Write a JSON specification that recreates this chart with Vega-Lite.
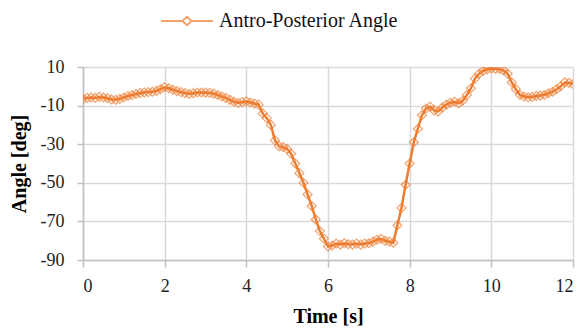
{
  "$schema": "https://vega.github.io/schema/vega-lite/v6.json",
  "width": 490,
  "height": 193,
  "autosize": "none",
  "padding": {"left": 83, "top": 67, "right": 14, "bottom": 69},
  "background": "white",
  "config": {
    "view": {"stroke": null},
    "font": "Liberation Serif",
    "axis": {"labelFont": "Liberation Serif", "titleFont": "Liberation Serif"},
    "legend": {"labelFont": "Liberation Serif"}
  },
  "data": {
    "values": [
      {"t": 0.0, "v": -6.5}, {"t": 0.1, "v": -6}, {"t": 0.2, "v": -5.8}, {"t": 0.3, "v": -6}, {"t": 0.4, "v": -5.5},
      {"t": 0.5, "v": -5.8}, {"t": 0.6, "v": -6.2}, {"t": 0.7, "v": -6.8}, {"t": 0.8, "v": -7}, {"t": 0.9, "v": -6.5},
      {"t": 1.0, "v": -5.8}, {"t": 1.1, "v": -5}, {"t": 1.2, "v": -4.5}, {"t": 1.3, "v": -4}, {"t": 1.4, "v": -3.5},
      {"t": 1.5, "v": -3.2}, {"t": 1.6, "v": -3}, {"t": 1.7, "v": -2.8}, {"t": 1.8, "v": -2.4}, {"t": 1.9, "v": -1.5},
      {"t": 2.0, "v": -0.5}, {"t": 2.1, "v": -1}, {"t": 2.2, "v": -1.8}, {"t": 2.3, "v": -2.5}, {"t": 2.4, "v": -3},
      {"t": 2.5, "v": -3.5}, {"t": 2.6, "v": -4}, {"t": 2.7, "v": -3.6}, {"t": 2.8, "v": -3.2}, {"t": 2.9, "v": -3.2},
      {"t": 3.0, "v": -3.3}, {"t": 3.1, "v": -3.4}, {"t": 3.2, "v": -3.8}, {"t": 3.3, "v": -4.5}, {"t": 3.4, "v": -5.3},
      {"t": 3.5, "v": -6}, {"t": 3.6, "v": -7}, {"t": 3.7, "v": -8}, {"t": 3.8, "v": -8.6}, {"t": 3.9, "v": -8.2},
      {"t": 4.0, "v": -7.8}, {"t": 4.1, "v": -8.4}, {"t": 4.2, "v": -9}, {"t": 4.3, "v": -9.5}, {"t": 4.4, "v": -14},
      {"t": 4.5, "v": -16.5}, {"t": 4.6, "v": -20}, {"t": 4.7, "v": -28}, {"t": 4.8, "v": -31}, {"t": 4.9, "v": -31.5},
      {"t": 5.0, "v": -32.5}, {"t": 5.1, "v": -35}, {"t": 5.2, "v": -40}, {"t": 5.3, "v": -45}, {"t": 5.4, "v": -50},
      {"t": 5.5, "v": -56}, {"t": 5.6, "v": -62}, {"t": 5.7, "v": -69}, {"t": 5.8, "v": -75}, {"t": 5.9, "v": -79},
      {"t": 6.0, "v": -83}, {"t": 6.1, "v": -82.5}, {"t": 6.2, "v": -81.5}, {"t": 6.3, "v": -82}, {"t": 6.4, "v": -81.3},
      {"t": 6.5, "v": -81.8}, {"t": 6.6, "v": -82}, {"t": 6.7, "v": -81.5}, {"t": 6.8, "v": -82}, {"t": 6.9, "v": -81.5},
      {"t": 7.0, "v": -81.3}, {"t": 7.1, "v": -80.5}, {"t": 7.2, "v": -79.5}, {"t": 7.3, "v": -79}, {"t": 7.4, "v": -80},
      {"t": 7.5, "v": -80.5}, {"t": 7.6, "v": -81}, {"t": 7.7, "v": -72}, {"t": 7.8, "v": -63}, {"t": 7.9, "v": -51},
      {"t": 8.0, "v": -40}, {"t": 8.1, "v": -29}, {"t": 8.2, "v": -22}, {"t": 8.3, "v": -15}, {"t": 8.4, "v": -11.5},
      {"t": 8.5, "v": -10.5}, {"t": 8.6, "v": -12.5}, {"t": 8.7, "v": -13}, {"t": 8.8, "v": -11}, {"t": 8.9, "v": -9.5},
      {"t": 9.0, "v": -8.5}, {"t": 9.1, "v": -8}, {"t": 9.2, "v": -8.8}, {"t": 9.3, "v": -7.5}, {"t": 9.4, "v": -4.5},
      {"t": 9.5, "v": -1}, {"t": 9.6, "v": 4}, {"t": 9.7, "v": 6.5}, {"t": 9.8, "v": 8}, {"t": 9.9, "v": 8.8},
      {"t": 10.0, "v": 9.2}, {"t": 10.1, "v": 9}, {"t": 10.2, "v": 9}, {"t": 10.3, "v": 8.2}, {"t": 10.4, "v": 6.5},
      {"t": 10.5, "v": 2}, {"t": 10.6, "v": -1.5}, {"t": 10.7, "v": -4.5}, {"t": 10.8, "v": -5.3}, {"t": 10.9, "v": -5.7},
      {"t": 11.0, "v": -5.5}, {"t": 11.1, "v": -5}, {"t": 11.2, "v": -4.8}, {"t": 11.3, "v": -4.5}, {"t": 11.4, "v": -3.6},
      {"t": 11.5, "v": -2.8}, {"t": 11.6, "v": -1.5}, {"t": 11.7, "v": 0}, {"t": 11.8, "v": 2}, {"t": 11.9, "v": 1.8},
      {"t": 12.0, "v": 1.2}
    ]
  },
  "transform": [{"calculate": "'Antro-Posterior Angle'", "as": "series"}],
  "encoding": {
    "x": {
      "field": "t", "type": "quantitative",
      "scale": {"domain": [0, 12], "nice": false},
      "axis": {
        "title": "Time [s]", "values": [0, 2, 4, 6, 8, 10, 12],
        "grid": true, "gridColor": "#d9d9d9", "gridWidth": 1.5,
        "domainColor": "#bfbfbf", "domainWidth": 1.5,
        "tickColor": "#bfbfbf", "tickWidth": 1.5, "tickSize": 7,
        "labelFont": "Liberation Serif", "labelFontSize": 18, "labelColor": "#222222", "labelPadding": 10,
        "titleFont": "Liberation Serif", "titleFontSize": 20, "titleFontWeight": "bold", "titleColor": "#000000", "titlePadding": 11
      }
    },
    "y": {
      "field": "v", "type": "quantitative",
      "scale": {"domain": [-90, 10], "nice": false, "zero": false},
      "axis": {
        "title": "Angle [deg]", "values": [-90, -70, -50, -30, -10, 10],
        "labelExpr": "replace(datum.label, '\u2212', '-')",
        "grid": true, "gridColor": "#d9d9d9", "gridWidth": 1.5,
        "domainColor": "#bfbfbf", "domainWidth": 1.5,
        "tickColor": "#bfbfbf", "tickWidth": 1.5, "tickSize": 6,
        "labelFont": "Liberation Serif", "labelFontSize": 18, "labelColor": "#222222", "labelPadding": 13,
        "titleFont": "Liberation Serif", "titleFontSize": 20, "titleFontWeight": "bold", "titleColor": "#000000", "titlePadding": 11
      }
    },
    "color": {
      "field": "series", "type": "nominal",
      "scale": {"range": ["#ED7D31"]},
      "legend": {
        "title": null, "orient": "none", "legendX": 77, "legendY": -73, "labelLimit": 0,
        "symbolType": "M-1,0H-0.18M0.18,0H1M0,-0.16L0.18,0L0,0.16L-0.18,0Z",
        "symbolSize": 2700, "symbolStrokeWidth": 2, "symbolStrokeColor": "#ED7D31", "symbolFillColor": "transparent",
        "labelFont": "Liberation Serif", "labelFontSize": 20, "labelColor": "#111111", "labelOffset": 5
      }
    }
  },
  "layer": [
    {"mark": {"type": "line", "strokeWidth": 2.5, "clip": true}},
    {"mark": {"type": "point", "shape": "diamond", "filled": false, "size": 80, "strokeWidth": 1.2, "color": "#F2A46E", "clip": true}}
  ]
}
